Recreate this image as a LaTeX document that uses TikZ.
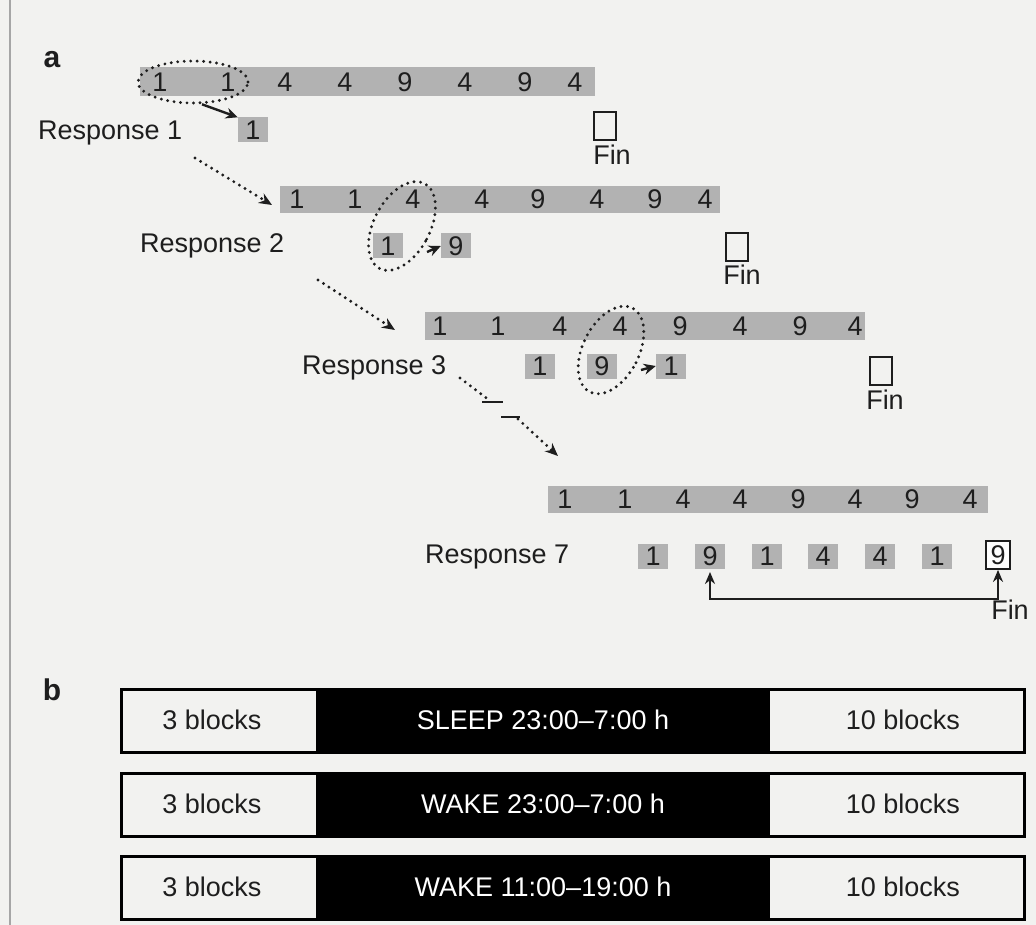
\documentclass[tikz,border=0pt]{standalone}
\usepackage{fontspec}
\setmainfont{Liberation Sans}
\usetikzlibrary{arrows.meta,shapes.geometric}
\definecolor{bg}{RGB}{242,242,240}
\definecolor{bargray}{RGB}{178,178,178}
\definecolor{ink}{RGB}{30,30,30}
\begin{document}
\begin{tikzpicture}[x=1pt,y=-1pt,
  txt/.style={font=\fontsize{27}{30}\selectfont, text=ink, inner sep=0pt},
  lbl/.style={font=\fontsize{30}{32}\selectfont\bfseries, text=ink, inner sep=0pt},
  bar/.style={fill=bargray, draw=none, inner sep=0pt, anchor=north west},
  rbox/.style={fill=bargray, draw=none, minimum width=30pt, minimum height=25pt, inner sep=0pt},
  finbox/.style={draw=ink, line width=1.8pt, minimum width=22pt, minimum height=28pt, inner sep=0pt},
  dots/.style={draw=ink, line width=3.2pt, line cap=round, dash pattern=on 0pt off 6.5pt},
  dotarrow/.style={dots, -{Stealth[length=13pt,width=11pt]}},
  solarrow/.style={draw=ink, line width=2.4pt, -{Stealth[length=12pt,width=11pt]}},
  ell/.style={ellipse, draw=ink, line width=3.2pt, line cap=round, dash pattern=on 0pt off 6.5pt, inner sep=0pt},
  blk/.style={draw=black, line width=3pt, inner sep=0pt, anchor=north west, minimum height=63pt, minimum width=903pt}
]
\useasboundingbox (0,0) rectangle (1036,925);
\fill[bg] (0,0) rectangle (1036,925);
\draw[gray!70, line width=1.5pt] (10,0) -- (10,925);

\node[lbl] (la) at (52,60) {a};
\node[lbl] (lb) at (52,690) {b};

% Row 1
\node[bar, minimum width=455pt, minimum height=29pt] (bar1) at (140,67) {};
\foreach \x/\d [count=\i] in {160/1,228/1,285/4,345/4,405/9,465/4,525/9,575/4}
  \node[txt] (r1d\i) at (\x,82) {\d};
\node[ell, minimum width=110pt, minimum height=42pt] (e1) at (193,82) {};
\node[txt, anchor=west] (resp1) at (38,133) {Response 1};
\node[rbox] (b11) at (253,130) {};
\node[txt] at (b11) {1};
\node[finbox] (fin1) at (605,126) {};
\node[txt, anchor=north] (fin1t) at (612,145) {Fin};
\draw[solarrow] (e1.-68) -- (b11.north west);

% Row 2
\coordinate (d1s) at (195,158);
\node[bar, minimum width=440pt, minimum height=27pt] (bar2) at (280,186) {};
\draw[dotarrow] (d1s) -- (272,205);
\foreach \x/\d [count=\i] in {297/1,355/1,413/4,482/4,538/9,597/4,655/9,705/4}
  \node[txt] (r2d\i) at (\x,199) {\d};
\node[txt, anchor=west] (resp2) at (140,246) {Response 2};
\node[rbox] (b21) at (388,246) {};
\node[txt] at (b21) {1};
\node[rbox] (b22) at (456,246) {};
\node[txt] at (b22) {9};
\node[ell, minimum width=56pt, minimum height=96pt, rotate=-28] (e2) at (402,226) {};
\draw[solarrow] (427,252) -- (b22.west);
\node[finbox] (fin2) at (737,247) {};
\node[txt, anchor=north] (fin2t) at (742,265) {Fin};

% Row 3
\coordinate (d2s) at (318,280);
\node[bar, minimum width=440pt, minimum height=28pt] (bar3) at (425,312) {};
\draw[dotarrow] (d2s) -- (395,330);
\foreach \x/\d [count=\i] in {440/1,498/1,560/4,620/4,680/9,740/4,800/9,855/4}
  \node[txt] (r3d\i) at (\x,326) {\d};
\node[txt, anchor=west] (resp3) at (302,368) {Response 3};
\node[rbox] (b31) at (540,366) {};
\node[txt] at (b31) {1};
\node[rbox] (b32) at (602,366) {};
\node[txt] at (b32) {9};
\node[rbox] (b33) at (671,366) {};
\node[txt] at (b33) {1};
\node[ell, minimum width=56pt, minimum height=94pt, rotate=-27] (e3) at (611,350) {};
\draw[solarrow] (641,370) -- (b33.west);
\node[finbox] (fin3) at (881,371) {};
\node[txt, anchor=north] (fin3t) at (885,390) {Fin};

% broken continuation
\coordinate (d3s) at (460,378);
\coordinate (d3m) at (489,400);
\coordinate (d3n) at (518,419);
\coordinate (d3e) at (558,456);
\draw[dots] (d3s) -- (d3m);
\draw[ink, line width=2.6pt] (482,402) -- (503,402);
\draw[ink, line width=2.6pt] (501,417) -- (520,417);
\draw[dotarrow] (d3n) -- (d3e);

% Row 7
\node[bar, minimum width=440pt, minimum height=27pt] (bar7) at (548,486) {};
\foreach \x/\d [count=\i] in {565/1,625/1,683/4,740/4,798/9,855/4,912/9,970/4}
  \node[txt] (r7d\i) at (\x,499) {\d};
\node[txt, anchor=west] (resp7) at (425,557) {Response 7};
\foreach \x/\d [count=\i] in {653/1,710/9,767/1,823/4,880/4,937/1}
  { \node[rbox] (b7\i) at (\x,556) {}; \node[txt] at (b7\i) {\d}; }
\node[draw=ink, line width=1.8pt, minimum width=24pt, minimum height=28pt, inner sep=0pt, fill=white] (b77) at (998,555) {};
\node[txt] at (b77) {9};
\coordinate (lp1) at (710,599);
\coordinate (lp2) at (998,599);
\draw[ink, line width=2.4pt, {Stealth[length=12pt,width=10pt]}-{Stealth[length=12pt,width=10pt]}] (b72.south |- 0,572) -- (lp1) -- (lp2) -- (b77.south);
\node[txt, anchor=north] (fin7t) at (1010,600) {Fin};

% Part b
\foreach \y/\t [count=\i] in {688/{SLEEP 23:00\textendash7:00 h},772/{WAKE 23:00\textendash7:00 h},855/{WAKE 11:00\textendash19:00 h}} {
  \fill[black] (316,\y) rectangle (770,\y+63);
  \node[blk] (pb\i) at (120,\y) {};
  \node[txt] (pl\i) at (212,\y+32) {3 blocks};
  \node[txt, text=white] (pm\i) at (543,\y+32) {\t};
  \node[txt] (pr\i) at (903,\y+32) {10 blocks};
}
\end{tikzpicture}
\end{document}
